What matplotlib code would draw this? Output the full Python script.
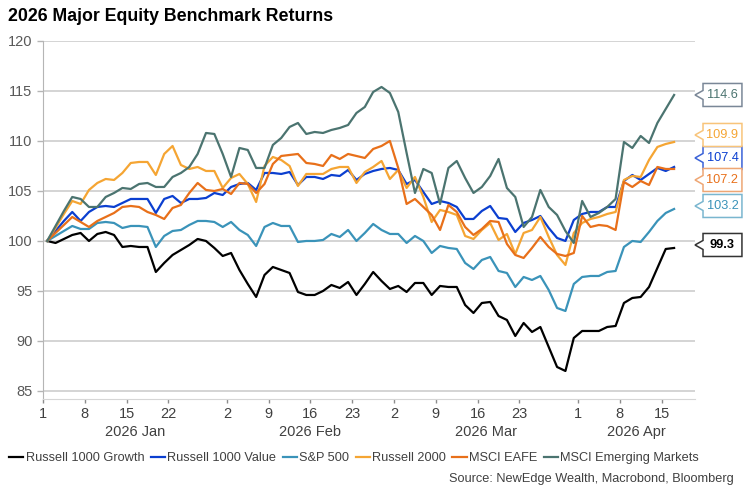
import numpy as np
import pandas as pd
import matplotlib
matplotlib.use('Agg')
import matplotlib.pyplot as plt
from matplotlib.patches import Polygon
from matplotlib.transforms import blended_transform_factory

# ----- data (index = 100 at start of year, one value per weekday) -----

start_date = '2026-01-01'

r1000_growth = [100.0, 99.8, 100.2, 100.6, 100.8, 100.0, 100.7, 100.9, 100.6, 99.4,
                99.5, 99.4, 99.4, 96.9, 97.8, 98.6, 99.1, 99.6, 100.2, 100.0,
                99.3, 98.5, 98.8, 97.1, 95.7, 94.4, 96.6, 97.4, 97.1, 96.8,
                94.9, 94.6, 94.6, 95.0, 95.6, 95.3, 95.9, 94.6, 95.7, 96.9,
                96.0, 95.2, 95.5, 94.9, 95.8, 95.8, 94.6, 95.5, 95.4, 95.4,
                93.6, 92.8, 93.8, 93.9, 92.5, 92.1, 90.5, 91.8, 90.9, 91.4,
                89.4, 87.4, 87.0, 90.3, 91.0, 91.0, 91.0, 91.4, 91.5, 93.8,
                94.3, 94.4, 95.4, 97.3, 99.2, 99.3]

r1000_value = [100.0, 101.0, 102.0, 102.9, 102.0, 102.9, 103.4, 103.5, 103.4, 103.8,
               104.2, 104.2, 104.2, 102.8, 104.2, 104.5, 103.8, 104.2, 104.2, 104.3,
               104.8, 104.6, 105.4, 105.7, 105.8, 105.1, 106.8, 106.8, 106.7, 106.9,
               105.6, 106.4, 106.4, 106.2, 106.6, 106.5, 107.1, 106.1, 106.7, 107.0,
               107.2, 107.3, 107.1, 105.7, 106.1, 104.9, 103.7, 104.0, 103.8, 103.4,
               102.2, 102.2, 103.0, 103.5, 102.3, 102.2, 100.9, 101.8, 102.1, 102.5,
               101.3, 100.3, 100.0, 102.1, 102.7, 102.9, 102.9, 103.4, 103.4, 106.0,
               106.6, 106.1, 106.7, 107.3, 107.0, 107.4]

sp500 = [100.0, 100.5, 101.0, 101.5, 101.2, 101.2, 101.8, 101.9, 101.8, 101.3,
         101.5, 101.5, 101.4, 99.4, 100.5, 101.0, 101.1, 101.6, 102.0, 102.0,
         101.9, 101.4, 101.9, 101.1, 100.6, 99.5, 101.4, 101.8, 101.5, 101.5,
         99.9, 100.0, 100.0, 100.1, 100.7, 100.4, 101.1, 100.0, 100.8, 101.7,
         101.1, 100.7, 100.7, 99.8, 100.5, 100.0, 98.8, 99.5, 99.3, 99.2,
         97.8, 97.2, 98.1, 98.4, 97.0, 96.8, 95.4, 96.4, 96.1, 96.5,
         95.1, 93.3, 93.0, 95.7, 96.4, 96.5, 96.5, 96.9, 97.0, 99.4,
         100.0, 99.9, 100.9, 102.0, 102.8, 103.2]

r2000 = [100.0, 101.3, 102.7, 104.0, 103.7, 105.1, 105.8, 106.2, 106.1, 106.8,
         107.8, 107.9, 107.9, 106.6, 108.7, 109.5, 107.6, 107.2, 107.4, 107.0,
         107.0, 105.3, 106.3, 106.7, 105.7, 103.9, 107.5, 108.4, 108.1, 107.5,
         105.5, 106.7, 106.7, 106.7, 107.2, 107.4, 107.4, 105.8, 106.9, 107.4,
         108.0, 106.2, 107.1, 105.3, 106.4, 104.4, 101.9, 103.1, 102.9, 102.6,
         100.5, 100.2, 101.1, 101.8, 100.1, 100.7, 98.7, 100.8, 101.1, 102.4,
         100.4, 98.6, 97.6, 100.8, 101.8, 102.2, 102.4, 102.7, 102.9, 106.1,
         106.5, 106.4, 108.1, 109.4, 109.7, 109.9]

msci_eafe = [100.0, 100.8, 101.6, 102.4, 101.9, 101.4, 102.0, 102.4, 102.8, 103.4,
             103.5, 103.4, 102.9, 102.6, 102.2, 103.3, 103.6, 104.8, 105.8, 105.1,
             105.0, 105.2, 104.7, 105.8, 105.7, 104.8, 105.7, 107.7, 108.5, 108.6,
             108.7, 107.8, 107.7, 107.5, 108.6, 108.2, 108.7, 108.5, 108.3, 109.2,
             109.5, 110.0, 107.3, 103.7, 104.2, 103.4, 102.6, 101.1, 103.6, 102.9,
             101.4, 100.6, 101.2, 102.0, 101.9, 99.7, 98.6, 98.3, 99.3, 100.4,
             99.4, 98.7, 98.5, 98.8, 102.5, 101.4, 101.6, 101.5, 101.1, 105.9,
             105.4, 106.0, 105.6, 107.4, 107.2, 107.2]

msci_em = [100.0, 101.5, 103.0, 104.4, 104.2, 103.4, 103.4, 104.4, 104.8, 105.3,
           105.2, 105.7, 105.8, 105.4, 105.4, 106.4, 106.8, 107.4, 108.7, 110.8,
           110.7, 108.7, 106.4, 109.3, 109.1, 107.3, 107.3, 109.6, 110.3, 111.4,
           111.8, 110.7, 110.9, 110.8, 111.1, 111.3, 111.6, 112.8, 113.4, 114.9,
           115.4, 114.8, 112.9, 108.8, 104.8, 107.2, 106.8, 103.7, 107.3, 108.0,
           106.3, 104.8, 105.4, 106.5, 108.2, 105.3, 104.4, 101.4, 102.4, 105.1,
           103.4, 102.6, 101.0, 99.8, 104.0, 102.4, 102.8, 103.4, 104.2, 109.9,
           109.3, 110.5, 109.8, 111.8, 113.2, 114.6]

series_names = ['Russell 1000 Growth', 'Russell 1000 Value', 'S&P 500',
                'Russell 2000', 'MSCI EAFE', 'MSCI Emerging Markets']
series_values = [r1000_growth, r1000_value, sp500, r2000, msci_eafe, msci_em]
series_colors = ['#000000', '#0b3fd0', '#3a93b9', '#f5a533', '#e8701a', '#4b7470']
box_edges = ['#333333', '#3a62d8', '#7ab6cf', '#f8c47a', '#eea674', '#7a8797']

tick_dates = ['2026-01-01', '2026-01-08', '2026-01-15', '2026-01-22',
              '2026-02-02', '2026-02-09', '2026-02-16', '2026-02-23',
              '2026-03-02', '2026-03-09', '2026-03-16', '2026-03-23',
              '2026-04-01', '2026-04-08', '2026-04-15']
month_starts = ['2026-01-01', '2026-02-02', '2026-03-02', '2026-04-01']
month_labels = ['2026 Jan', '2026 Feb', '2026 Mar', '2026 Apr']

# end-of-line labels: nudges so the crowded boxes do not overlap
label_nudge = [0.3, 0.9, 0.3, 0.7, -1.1, 0.0]

# ----- chart -----

plt.rcParams['font.family'] = ['Liberation Sans', 'DejaVu Sans']

days = pd.bdate_range(start_date, periods=len(r1000_growth) + 10)
day_index = {d.strftime('%Y-%m-%d'): i for i, d in enumerate(days)}
x = np.arange(len(r1000_growth)) + 0.5
x_end = 78

fig = plt.figure(figsize=(7.49, 4.96), dpi=100)
ax = fig.add_axes([0.0574, 0.1956, 0.8705, 0.7218])

for name, vals, col in zip(series_names, series_values, series_colors):
    ax.plot(x, vals, color=col, lw=1.6, label=name)

ax.set_ylim(84.2, 120)
ax.set_xlim(0, x_end)
ax.set_yticks(range(85, 121, 5))
ax.yaxis.grid(True, color='#c9c9c9', lw=1.1)
ax.set_axisbelow(True)
for s in ['top', 'right']:
    ax.spines[s].set_visible(False)
ax.spines['left'].set_color('#b5b5b5')
ax.spines['bottom'].set_color('#d6d6d6')
ax.tick_params(axis='y', colors='#b5b5b5', labelcolor='#595959', labelsize=10.5,
               length=4, width=1)

ax.set_xticks([day_index[d] for d in tick_dates])
ax.set_xticklabels([str(int(d[-2:])) for d in tick_dates])
ax.tick_params(axis='x', length=3, width=1, colors='#8c8c8c', labelsize=10.5,
               labelcolor='#404040', pad=3)

# month labels centred under each month span
bounds = [day_index[d] for d in month_starts] + [x_end]
trans_x = blended_transform_factory(ax.transData, ax.transAxes)
for lab, a, b in zip(month_labels, bounds[:-1], bounds[1:]):
    ax.text((a + b) / 2, -0.092, lab, transform=trans_x, ha='center', va='center',
            fontsize=10.5, color='#404040')

# callout boxes at the end of each line
trans_y = blended_transform_factory(ax.transAxes, ax.transData)
for vals, col, edge, dy in zip(series_values, series_colors, box_edges, label_nudge):
    yv = vals[-1] + dy
    h, n = 1.15, 0.45
    left, tip, right = 1.0123, 1.0, 1.072
    box = Polygon([(left, yv - h), (right, yv - h), (right, yv + h), (left, yv + h),
                   (left, yv + n), (tip, yv), (left, yv - n)],
                  closed=True, transform=trans_y, facecolor='white', edgecolor=edge,
                  lw=1.1, clip_on=False, zorder=5)
    ax.add_patch(box)
    ax.text((left + right) / 2, yv, f'{vals[-1]:.1f}', transform=trans_y,
            ha='center', va='center', fontsize=9.2, color=col, zorder=6,
            clip_on=False, fontweight='bold' if col == '#000000' else 'normal')

fig.text(0.011, 0.966, '2026 Major Equity Benchmark Returns', fontsize=12.8,
         fontweight='bold', ha='left', va='center')

fig.legend(loc='center left', bbox_to_anchor=(0.012, 0.0766), ncol=6, frameon=False,
           fontsize=9.2, handlelength=1.1, handletextpad=0.2, columnspacing=0.5,
           borderaxespad=0, borderpad=0, labelcolor='#404040')

fig.text(0.979, 0.034, 'Source: NewEdge Wealth, Macrobond, Bloomberg', fontsize=9.2,
         ha='right', va='center', color='#404040')

plt.savefig('out.png', dpi=100)
plt.close()
